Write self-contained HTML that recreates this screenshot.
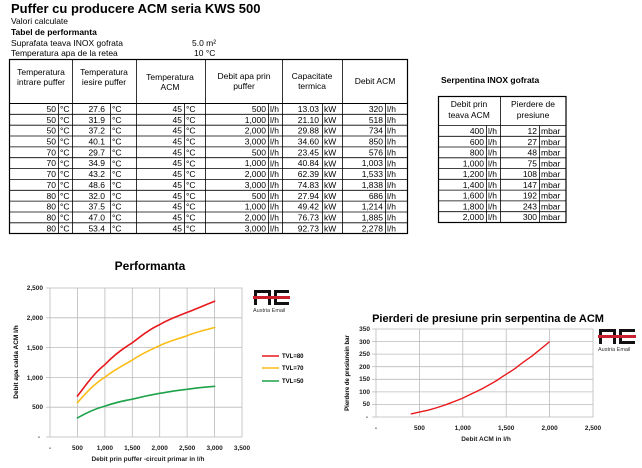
<!DOCTYPE html>
<html><head><meta charset="utf-8"><style>
html,body{margin:0;padding:0;background:#fff;}
svg{display:block;font-family:"Liberation Sans",Arial,sans-serif;}
</style></head><body>
<svg width="642" height="468" viewBox="0 0 642 468" xmlns="http://www.w3.org/2000/svg">
<rect width="642" height="468" fill="#fff"/>
<!-- Header text -->
<text x="11" y="13" font-size="13" font-weight="bold">Puffer cu producere ACM seria KWS 500</text>
<text x="11" y="24" font-size="8.5">Valori calculate</text>
<text x="11" y="35" font-size="8.5" font-weight="bold">Tabel  de performanta</text>
<text x="11" y="46" font-size="8.5">Suprafata teava INOX gofrata</text>
<text x="192" y="46" font-size="8.5">5.0  m²</text>
<text x="11" y="56" font-size="8.5">Temperatura apa de la retea</text>
<text x="194" y="56" font-size="8.5">10  °C</text>

<!-- Main table -->
<g stroke="#000" fill="none">
<rect x="9.5" y="59.5" width="398" height="174" stroke-width="1.2"/>
<line x1="9.5" y1="103.5" x2="407.5" y2="103.5"/>
<g stroke-width="0.8">
<line x1="72.5" y1="59.5" x2="72.5" y2="233.5"/>
<line x1="136.5" y1="59.5" x2="136.5" y2="233.5"/>
<line x1="205.5" y1="59.5" x2="205.5" y2="233.5"/>
<line x1="282.5" y1="59.5" x2="282.5" y2="233.5"/>
<line x1="342.5" y1="59.5" x2="342.5" y2="233.5"/>
<line x1="58.5" y1="103.5" x2="58.5" y2="233.5"/>
<line x1="110.5" y1="103.5" x2="110.5" y2="233.5"/>
<line x1="184.5" y1="103.5" x2="184.5" y2="233.5"/>
<line x1="268.5" y1="103.5" x2="268.5" y2="233.5"/>
<line x1="322.5" y1="103.5" x2="322.5" y2="233.5"/>
<line x1="385.5" y1="103.5" x2="385.5" y2="233.5"/>
<line x1="9.5" y1="114.3" x2="407.5" y2="114.3"/>
<line x1="9.5" y1="125.2" x2="407.5" y2="125.2"/>
<line x1="9.5" y1="136" x2="407.5" y2="136"/>
<line x1="9.5" y1="146.9" x2="407.5" y2="146.9"/>
<line x1="9.5" y1="157.7" x2="407.5" y2="157.7"/>
<line x1="9.5" y1="168.6" x2="407.5" y2="168.6"/>
<line x1="9.5" y1="179.4" x2="407.5" y2="179.4"/>
<line x1="9.5" y1="190.3" x2="407.5" y2="190.3"/>
<line x1="9.5" y1="201.1" x2="407.5" y2="201.1"/>
<line x1="9.5" y1="212" x2="407.5" y2="212"/>
<line x1="9.5" y1="222.8" x2="407.5" y2="222.8"/>
</g></g>
<g font-size="8.5" text-anchor="middle">
<text x="41" y="75">Temperatura</text><text x="41" y="85">intrare puffer</text>
<text x="104" y="75">Temperatura</text><text x="104" y="85">iesire puffer</text>
<text x="170" y="80">Temperatura</text><text x="170" y="90">ACM</text>
<text x="244" y="79">Debit apa prin</text><text x="244" y="89">puffer</text>
<text x="312" y="79">Capacitate</text><text x="312" y="89">termica</text>
<text x="375" y="84">Debit ACM</text>
</g>
<g font-size="8.5">
<g text-anchor="end">
<text x="56" y="112">50</text><text x="105" y="112">27.6</text><text x="182" y="112">45</text><text x="266" y="112">500</text><text x="319" y="112">13.03</text><text x="383" y="112">320</text>
<text x="56" y="122.8">50</text><text x="105" y="122.8">31.9</text><text x="182" y="122.8">45</text><text x="266" y="122.8">1,000</text><text x="319" y="122.8">21.10</text><text x="383" y="122.8">518</text>
<text x="56" y="133.7">50</text><text x="105" y="133.7">37.2</text><text x="182" y="133.7">45</text><text x="266" y="133.7">2,000</text><text x="319" y="133.7">29.88</text><text x="383" y="133.7">734</text>
<text x="56" y="144.5">50</text><text x="105" y="144.5">40.1</text><text x="182" y="144.5">45</text><text x="266" y="144.5">3,000</text><text x="319" y="144.5">34.60</text><text x="383" y="144.5">850</text>
<text x="56" y="155.4">70</text><text x="105" y="155.4">29.7</text><text x="182" y="155.4">45</text><text x="266" y="155.4">500</text><text x="319" y="155.4">23.45</text><text x="383" y="155.4">576</text>
<text x="56" y="166.2">70</text><text x="105" y="166.2">34.9</text><text x="182" y="166.2">45</text><text x="266" y="166.2">1,000</text><text x="319" y="166.2">40.84</text><text x="383" y="166.2">1,003</text>
<text x="56" y="177.1">70</text><text x="105" y="177.1">43.2</text><text x="182" y="177.1">45</text><text x="266" y="177.1">2,000</text><text x="319" y="177.1">62.39</text><text x="383" y="177.1">1,533</text>
<text x="56" y="187.9">70</text><text x="105" y="187.9">48.6</text><text x="182" y="187.9">45</text><text x="266" y="187.9">3,000</text><text x="319" y="187.9">74.83</text><text x="383" y="187.9">1,838</text>
<text x="56" y="198.8">80</text><text x="105" y="198.8">32.0</text><text x="182" y="198.8">45</text><text x="266" y="198.8">500</text><text x="319" y="198.8">27.94</text><text x="383" y="198.8">686</text>
<text x="56" y="209.6">80</text><text x="105" y="209.6">37.5</text><text x="182" y="209.6">45</text><text x="266" y="209.6">1,000</text><text x="319" y="209.6">49.42</text><text x="383" y="209.6">1,214</text>
<text x="56" y="220.5">80</text><text x="105" y="220.5">47.0</text><text x="182" y="220.5">45</text><text x="266" y="220.5">2,000</text><text x="319" y="220.5">76.73</text><text x="383" y="220.5">1,885</text>
<text x="56" y="231.3">80</text><text x="105" y="231.3">53.4</text><text x="182" y="231.3">45</text><text x="266" y="231.3">3,000</text><text x="319" y="231.3">92.73</text><text x="383" y="231.3">2,278</text>
</g>
<g id="u">
<text x="60" y="112">°C</text><text x="112" y="112">°C</text><text x="186" y="112">°C</text><text x="270" y="112">l/h</text><text x="324" y="112">kW</text><text x="387" y="112">l/h</text>
</g>
<use href="#u" y="10.85"/><use href="#u" y="21.7"/><use href="#u" y="32.55"/><use href="#u" y="43.4"/><use href="#u" y="54.25"/><use href="#u" y="65.1"/><use href="#u" y="75.95"/><use href="#u" y="86.8"/><use href="#u" y="97.65"/><use href="#u" y="108.5"/><use href="#u" y="119.35"/>
</g>

<!-- Right table -->
<text x="441" y="83" font-size="8.5" font-weight="bold">Serpentina INOX gofrata</text>
<g stroke="#000" fill="none">
<rect x="438.5" y="96.5" width="127.5" height="126" stroke-width="1.2"/>
<g stroke-width="0.8">
<line x1="500.5" y1="96.5" x2="500.5" y2="222.5"/>
<line x1="486.5" y1="125.5" x2="486.5" y2="222.5"/>
<line x1="539.5" y1="125.5" x2="539.5" y2="222.5"/>
<line x1="438.5" y1="125.5" x2="566" y2="125.5"/>
<line x1="438.5" y1="136.3" x2="566" y2="136.3"/>
<line x1="438.5" y1="147" x2="566" y2="147"/>
<line x1="438.5" y1="157.8" x2="566" y2="157.8"/>
<line x1="438.5" y1="168.6" x2="566" y2="168.6"/>
<line x1="438.5" y1="179.3" x2="566" y2="179.3"/>
<line x1="438.5" y1="190.1" x2="566" y2="190.1"/>
<line x1="438.5" y1="200.9" x2="566" y2="200.9"/>
<line x1="438.5" y1="211.7" x2="566" y2="211.7"/>
</g></g>
<g font-size="8.5" text-anchor="middle">
<text x="469" y="107">Debit prin</text><text x="469" y="118">teava ACM</text>
<text x="533" y="107">Pierdere de</text><text x="533" y="118">presiune</text>
</g>
<g font-size="8.5">
<g text-anchor="end">
<text x="484" y="134">400</text><text x="537" y="134">12</text>
<text x="484" y="144.8">600</text><text x="537" y="144.8">27</text>
<text x="484" y="155.6">800</text><text x="537" y="155.6">48</text>
<text x="484" y="166.4">1,000</text><text x="537" y="166.4">75</text>
<text x="484" y="177.1">1,200</text><text x="537" y="177.1">108</text>
<text x="484" y="187.9">1,400</text><text x="537" y="187.9">147</text>
<text x="484" y="198.7">1,600</text><text x="537" y="198.7">192</text>
<text x="484" y="209.5">1,800</text><text x="537" y="209.5">243</text>
<text x="484" y="220.2">2,000</text><text x="537" y="220.2">300</text>
</g>
<g id="u2"><text x="488" y="134">l/h</text><text x="541" y="134">mbar</text></g>
<use href="#u2" y="10.8"/><use href="#u2" y="21.6"/><use href="#u2" y="32.4"/><use href="#u2" y="43.1"/><use href="#u2" y="53.9"/><use href="#u2" y="64.7"/><use href="#u2" y="75.5"/><use href="#u2" y="86.2"/>
</g>

<!-- Chart 1 -->
<text x="150" y="270" font-size="12" font-weight="bold" text-anchor="middle">Performanta</text>
<g stroke="#bbb" stroke-width="0.8" fill="none">
<rect x="50" y="288" width="192" height="149"/>
<line x1="77.4" y1="288" x2="77.4" y2="437"/><line x1="104.9" y1="288" x2="104.9" y2="437"/><line x1="132.3" y1="288" x2="132.3" y2="437"/><line x1="159.7" y1="288" x2="159.7" y2="437"/><line x1="187.1" y1="288" x2="187.1" y2="437"/><line x1="214.6" y1="288" x2="214.6" y2="437"/>
<line x1="50" y1="317.8" x2="242" y2="317.8"/><line x1="50" y1="347.6" x2="242" y2="347.6"/><line x1="50" y1="377.4" x2="242" y2="377.4"/><line x1="50" y1="407.2" x2="242" y2="407.2"/>
<line x1="46" y1="288" x2="50" y2="288"/><line x1="46" y1="317.8" x2="50" y2="317.8"/><line x1="46" y1="347.6" x2="50" y2="347.6"/><line x1="46" y1="377.4" x2="50" y2="377.4"/><line x1="46" y1="407.2" x2="50" y2="407.2"/><line x1="46" y1="437" x2="50" y2="437"/>
</g>
<g font-size="6.5" font-weight="bold" fill="#222" text-anchor="end">
<text x="43" y="290">2,500</text><text x="43" y="320">2,000</text><text x="43" y="350">1,500</text><text x="43" y="380">1,000</text><text x="43" y="409">500</text><text x="40" y="439">-</text>
</g>
<g font-size="6.5" font-weight="bold" fill="#222" text-anchor="middle">
<text x="50" y="450">-</text><text x="77.4" y="450">500</text><text x="104.9" y="450">1,000</text><text x="132.3" y="450">1,500</text><text x="159.7" y="450">2,000</text><text x="187.1" y="450">2,500</text><text x="214.6" y="450">3,000</text><text x="242" y="450">3,500</text>
<text x="148" y="461">Debit prin puffer -circuit primar in l/h</text>
</g>
<text transform="translate(18,362) rotate(-90)" font-size="6.5" font-weight="bold" text-anchor="middle">Debit  apa calda  ACM l/h</text>
<g fill="none" stroke-width="1.6" stroke-linecap="round">
<path d="M77.4,396.1 C86,385 94,373 104.9,364.6 C114,355 122,349 132.3,342.8 C141,336 150,329 159.7,324.6 C169,319 178,316 187.1,312.4 C196,309 205,305 214.6,301.2" stroke="#e8191c"/>
<path d="M77.4,402.7 C86,393 94,384 104.9,377.2 C114,370 122,366 132.3,360.1 C141,354 150,350 159.7,345.6 C169,341 178,339 187.1,335.7 C196,332 205,330 214.6,327.5" stroke="#fbbc14"/>
<path d="M77.4,417.9 C86,413 94,409 104.9,406.1 C114,403 122,401 132.3,399.2 C141,397 150,395 159.7,393.3 C169,392 178,390 187.1,389.3 C196,388 205,387 214.6,386.3" stroke="#1ea34a"/>
</g>
<g font-size="6" font-weight="bold">
<line x1="262" y1="356" x2="279" y2="356" stroke="#e8191c" stroke-width="1.6"/><text x="282" y="358">TVL=80</text>
<line x1="262" y1="368" x2="279" y2="368" stroke="#fbbc14" stroke-width="1.6"/><text x="282" y="370">TVL=70</text>
<line x1="262" y1="381" x2="279" y2="381" stroke="#1ea34a" stroke-width="1.6"/><text x="282" y="383">TVL=50</text>
</g>
<!-- Logo 1 -->
<g>
<rect x="254" y="290" width="3" height="15" fill="#111"/><rect x="254" y="290" width="17" height="3" fill="#111"/><rect x="268" y="290" width="3" height="15" fill="#111"/>
<rect x="274" y="290" width="15" height="3" fill="#111"/><rect x="274" y="290" width="3" height="15" fill="#111"/><rect x="274" y="302" width="15" height="3" fill="#111"/>
<rect x="253" y="296" width="37" height="3" fill="#c8202c"/>
<text x="253" y="312" font-size="5.5" fill="#333">Austria Email</text>
</g>

<!-- Chart 2 -->
<text x="488" y="322" font-size="11" font-weight="bold" text-anchor="middle">Pierderi de presiune prin serpentina de ACM</text>
<g stroke="#bbb" stroke-width="0.8" fill="none">
<rect x="376" y="329" width="217" height="88"/>
<line x1="419.4" y1="329" x2="419.4" y2="417"/><line x1="462.8" y1="329" x2="462.8" y2="417"/><line x1="506.2" y1="329" x2="506.2" y2="417"/><line x1="549.6" y1="329" x2="549.6" y2="417"/>
<line x1="376" y1="341.6" x2="593" y2="341.6"/><line x1="376" y1="354.1" x2="593" y2="354.1"/><line x1="376" y1="366.7" x2="593" y2="366.7"/><line x1="376" y1="379.3" x2="593" y2="379.3"/><line x1="376" y1="391.9" x2="593" y2="391.9"/><line x1="376" y1="404.4" x2="593" y2="404.4"/>
<line x1="372" y1="329" x2="376" y2="329"/><line x1="372" y1="341.6" x2="376" y2="341.6"/><line x1="372" y1="354.1" x2="376" y2="354.1"/><line x1="372" y1="366.7" x2="376" y2="366.7"/><line x1="372" y1="379.3" x2="376" y2="379.3"/><line x1="372" y1="391.9" x2="376" y2="391.9"/><line x1="372" y1="404.4" x2="376" y2="404.4"/><line x1="372" y1="417" x2="376" y2="417"/>
</g>
<g font-size="6.5" font-weight="bold" fill="#222" text-anchor="end">
<text x="370" y="331">350</text><text x="370" y="344">300</text><text x="370" y="356">250</text><text x="370" y="369">200</text><text x="370" y="381">150</text><text x="370" y="394">100</text><text x="370" y="406">50</text><text x="368" y="419">-</text>
</g>
<g font-size="6.5" font-weight="bold" fill="#222" text-anchor="middle">
<text x="376" y="430">-</text><text x="419.4" y="430">500</text><text x="462.8" y="430">1,000</text><text x="506.2" y="430">1,500</text><text x="549.6" y="430">2,000</text><text x="593" y="430">2,500</text>
<text x="486" y="441">Debit ACM in l/h</text>
</g>
<text transform="translate(349,373) rotate(-90)" font-size="6" font-weight="bold" text-anchor="middle">Pierdere de presiunein bar</text>
<path d="M410.7,414 C417,412.5 422,411.5 428.1,410.2 C434,408.6 440,406.8 445.4,404.9 C451,402.7 457,400.5 462.8,398.1 C468,395.4 474,392.7 480.2,389.8 C486,386.6 492,383.4 497.5,380 C503,376.2 509,372.5 514.9,368.7 C520,364.4 526,360.1 532.2,355.9 C538,351.1 544,346.4 549.6,341.6" fill="none" stroke="#e8191c" stroke-width="1.4"/>
<!-- Logo 2 -->
<g>
<rect x="599" y="329" width="3" height="15" fill="#111"/><rect x="599" y="329" width="17" height="3" fill="#111"/><rect x="613" y="329" width="3" height="15" fill="#111"/>
<rect x="619" y="329" width="16" height="3" fill="#111"/><rect x="619" y="329" width="3" height="15" fill="#111"/><rect x="619" y="341" width="16" height="3" fill="#111"/>
<rect x="598" y="335" width="38" height="3" fill="#c8202c"/>
<text x="598" y="351" font-size="5.5" fill="#333">Austria Email</text>
</g>
</svg>
</body></html>
